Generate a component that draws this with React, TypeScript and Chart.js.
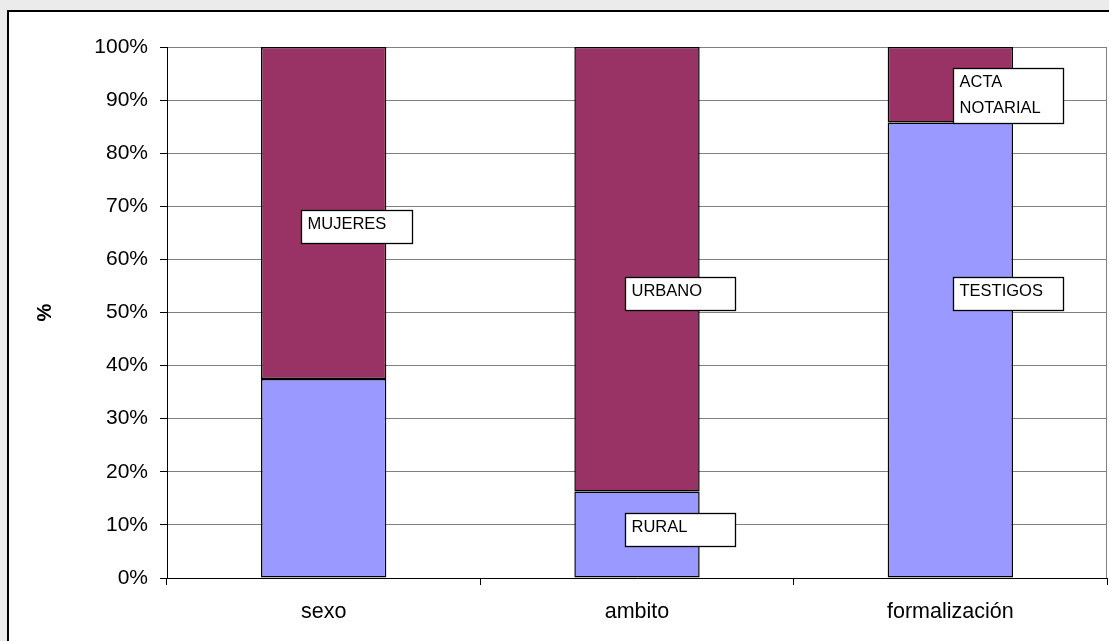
import React, { useEffect, useRef } from "react";
import { Chart, registerables } from "chart.js";

Chart.register(...registerables);

const categories = ["sexo", "ambito", "formalización"];
const bottomValues = [37.5, 16.3, 85.8];
const topValues = [62.5, 83.7, 14.2];
const bottomNames = ["", "RURAL", "TESTIGOS"];
const topNames = ["MUJERES", "URBANO", "ACTA NOTARIAL"];
const yTicks = [0, 10, 20, 30, 40, 50, 60, 70, 80, 90, 100];

// label box placement: category index, y (in % units) of the box top, x offset from bar centre
const labelLayout = [
  { cat: 0, text: topNames[0], yTop: 69.3, dx: -23, w: 111, h: 33 },
  { cat: 1, text: topNames[1], yTop: 56.7, dx: -12, w: 110, h: 33 },
  { cat: 1, text: bottomNames[1], yTop: 12.2, dx: -12, w: 110, h: 33 },
  { cat: 2, text: topNames[2], yTop: 96.0, dx: 3, w: 110, h: 55 },
  { cat: 2, text: bottomNames[2], yTop: 56.7, dx: 3, w: 110, h: 33 },
];

const FONT = "'Liberation Sans', Arial, sans-serif";

const framePlugin = {
  id: "frame",
  beforeDraw(chart: any) {
    const { ctx, width, height } = chart;
    ctx.save();
    ctx.fillStyle = "#ebebeb";
    ctx.fillRect(0, 0, width, height);
    ctx.fillStyle = "#ffffff";
    ctx.fillRect(8, 11, width + 10, height + 10);
    ctx.strokeStyle = "#000000";
    ctx.lineWidth = 2;
    ctx.strokeRect(8, 11, width + 10, height + 10);
    ctx.restore();
  },
  afterDraw(chart: any) {
    const { ctx, chartArea } = chart;
    ctx.save();
    ctx.strokeStyle = "#808080";
    ctx.lineWidth = 1;
    ctx.beginPath();
    ctx.moveTo(Math.round(chartArea.right) - 0.5, chartArea.top);
    ctx.lineTo(Math.round(chartArea.right) - 0.5, chartArea.bottom);
    ctx.stroke();
    ctx.restore();
  },
};

const labelPlugin = {
  id: "boxLabels",
  afterDatasetsDraw(chart: any) {
    const { ctx } = chart;
    const xs = chart.scales.x;
    const ys = chart.scales.y;
    ctx.save();
    ctx.font = `16.5px ${FONT}`;
    ctx.textAlign = "left";
    ctx.textBaseline = "alphabetic";
    for (const l of labelLayout) {
      const x = Math.round(xs.getPixelForValue(l.cat) + l.dx) + 0.5;
      const y = Math.round(ys.getPixelForValue(l.yTop)) + 0.5;
      ctx.fillStyle = "#ffffff";
      ctx.fillRect(x, y, l.w, l.h);
      ctx.strokeStyle = "#000000";
      ctx.lineWidth = 1.3;
      ctx.strokeRect(x, y, l.w, l.h);
      ctx.fillStyle = "#000000";
      const parts = l.text.split(" ");
      parts.forEach((p: string, i: number) => {
        ctx.fillText(p, x + 6, y + 18.5 + i * 26);
      });
    }
    ctx.restore();
  },
};

export default function App() {
  const ref = useRef<HTMLCanvasElement | null>(null);

  useEffect(() => {
    if (!ref.current) return;
    const chart = new Chart(ref.current, {
      type: "bar",
      data: {
        labels: categories,
        datasets: [
          {
            label: "A",
            data: bottomValues,
            backgroundColor: "#9999ff",
            borderColor: "#000000",
            borderWidth: 1.5,
            borderSkipped: false,
            categoryPercentage: 0.4,
            barPercentage: 1,
          },
          {
            label: "B",
            data: topValues,
            backgroundColor: "#993366",
            borderColor: "#000000",
            borderWidth: 1.5,
            borderSkipped: false,
            categoryPercentage: 0.4,
            barPercentage: 1,
          },
        ],
      },
      options: {
        responsive: false,
        animation: false,
        layout: { padding: { left: 0, top: 47, right: 2, bottom: 0 } },
        plugins: {
          legend: { display: false },
          tooltip: { enabled: false },
        },
        scales: {
          x: {
            stacked: true,
            grid: {
              display: true,
              drawOnChartArea: false,
              drawTicks: true,
              tickLength: 7,
              tickColor: "#000000",
              offset: true,
            },
            border: { color: "#000000", width: 1 },
            ticks: {
              color: "#000000",
              font: { family: FONT, size: 21.5 },
              padding: 14,
              maxRotation: 0,
            },
            afterFit(scale: any) {
              scale.height = 63;
            },
          },
          y: {
            stacked: true,
            min: 0,
            max: 100,
            afterBuildTicks(scale: any) {
              scale.ticks = yTicks.map((v) => ({ value: v }));
            },
            grid: {
              color: "#808080",
              lineWidth: 1,
              drawTicks: true,
              tickLength: 7,
              tickColor: "#000000",
            },
            border: { color: "#000000", width: 1 },
            ticks: {
              color: "#000000",
              font: { family: FONT, size: 21 },
              padding: 12,
              callback: (v: any) => `${v}%`,
            },
            title: {
              display: true,
              text: "%",
              color: "#000000",
              font: { family: FONT, size: 20, weight: "bold" },
              padding: { top: 33, bottom: 0 },
            },
            afterFit(scale: any) {
              scale.width = 167;
            },
          },
        },
      },
      plugins: [framePlugin, labelPlugin],
    });
    return () => chart.destroy();
  }, []);

  return (
    <div style={{ position: "fixed", left: 0, top: 0, width: 1109, height: 641 }}>
      <canvas ref={ref} width={1109} height={641} style={{ display: "block", width: 1109, height: 641 }} />
    </div>
  );
}
